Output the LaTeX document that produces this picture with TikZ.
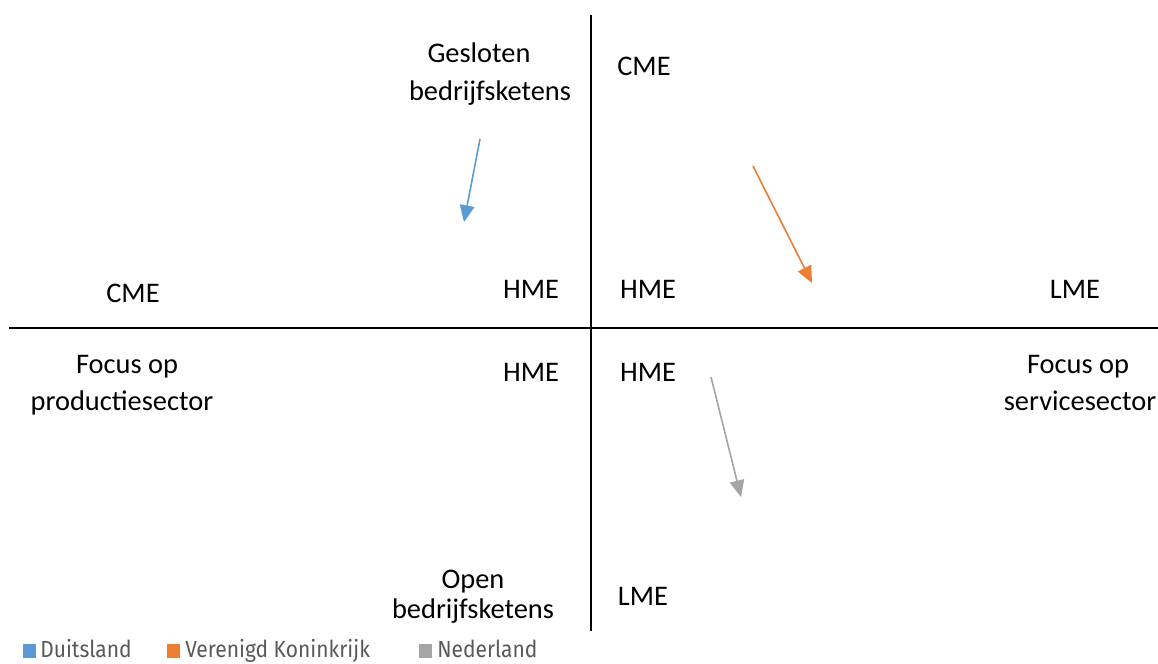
\documentclass[tikz,border=0pt]{standalone}
\usepackage{fontspec}
\setmainfont{Carlito}
\newfontfamily\legendfont[FakeStretch=0.9]{Fira Sans}
\usetikzlibrary{arrows.meta}
\definecolor{dblue}{HTML}{5B9BD5}
\definecolor{dorange}{HTML}{ED7D31}
\definecolor{dgray}{HTML}{A5A5A5}
\definecolor{legtext}{HTML}{595959}
\begin{document}
\begin{tikzpicture}[x=0.75pt,y=-0.75pt,
  axis/.style={line width=1.6pt,black},
  lbl/.style={anchor=base,inner sep=0pt,font=\fontsize{21.3}{25}\selectfont},
  trend/.style={line width=1.2pt,-{Triangle[length=12.5pt,width=11pt]}},
  legbox/.style={inner sep=0pt,minimum width=9.5pt,minimum height=10.5pt,anchor=west},
  legtxt/.style={anchor=base west,inner sep=0pt,text=legtext,font=\legendfont\fontsize{17.5}{20}\selectfont}]
\useasboundingbox (0,0) rectangle (1158,664);

% quadrant axes
\coordinate (vtop) at (591,15);
\coordinate (vbot) at (591,631);
\coordinate (hleft) at (9,328);
\coordinate (hright) at (1158,328);
\draw[axis] (vtop) -- (vbot);
\draw[axis] (hleft) -- (hright);

% axis labels
\node[lbl] (gesl1) at (479,62) {Gesloten};
\node[lbl] (gesl2) at (490,100) {bedrijfsketens};
\node[lbl] (cmetop) at (644,75) {CME};
\node[lbl] (cmeleft) at (133,302) {CME};
\node[lbl] (hmeul) at (531,298) {HME};
\node[lbl] (hmeur) at (648,298) {HME};
\node[lbl] (lmeright) at (1075,298) {LME};
\node[lbl] (fprod1) at (127,373) {Focus op};
\node[lbl] (fprod2) at (122,410) {productiesector};
\node[lbl] (hmell) at (531,381) {HME};
\node[lbl] (hmelr) at (648,381) {HME};
\node[lbl] (fserv1) at (1078,373) {Focus op};
\node[lbl] (fserv2) at (1080,410) {servicesector};
\node[lbl] (open1) at (473,588) {Open};
\node[lbl] (open2) at (473,618) {bedrijfsketens};
\node[lbl] (lmebot) at (643,605) {LME};

% country trends
\coordinate (de0) at (480,139);
\coordinate (de1) at (464,222);
\coordinate (uk0) at (753,166);
\coordinate (uk1) at (812,283);
\coordinate (nl0) at (711,377);
\coordinate (nl1) at (741,497);
\draw[trend,dblue] (de0) -- (de1);
\draw[trend,dorange] (uk0) -- (uk1);
\draw[trend,dgray] (nl0) -- (nl1);

% legend
\node[legbox,fill=dblue] (kde) at (23,651) {};
\node[legtxt] (tde) at (40,657) {Duitsland};
\node[legbox,fill=dorange] (kuk) at (167,651) {};
\node[legtxt] (tuk) at (185,657) {Verenigd Koninkrijk};
\node[legbox,fill=dgray] (knl) at (419,651) {};
\node[legtxt] (tnl) at (437,657) {Nederland};
\end{tikzpicture}
\end{document}
